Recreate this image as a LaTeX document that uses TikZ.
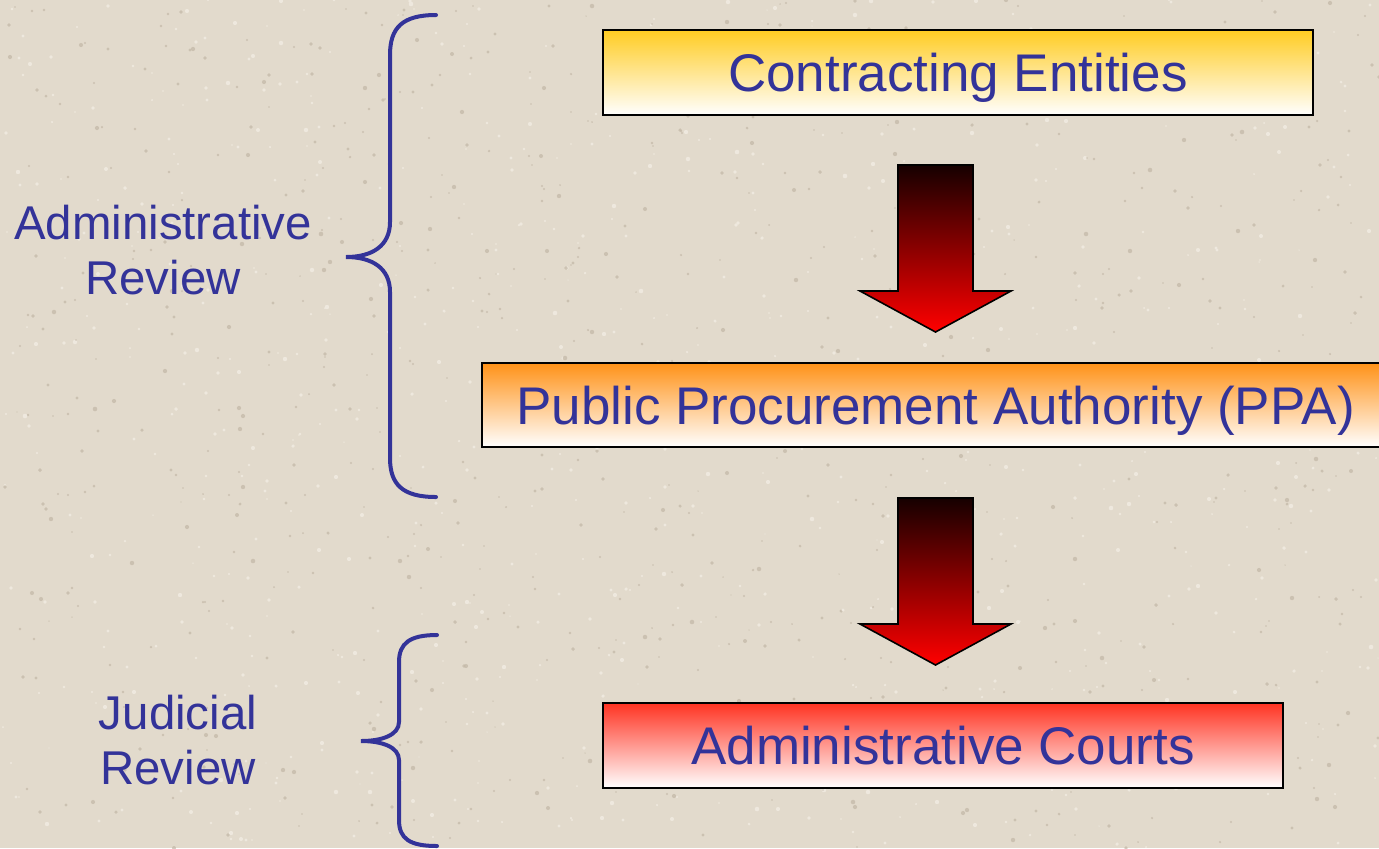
\documentclass[tikz,border=0pt]{standalone}
\usepackage{fontspec}
\setmainfont{Liberation Sans}
\usetikzlibrary{calc}

\definecolor{paper}{HTML}{E2DACC}
\definecolor{speckdark}{HTML}{C4B9A8}
\definecolor{specklight}{HTML}{F0EAE0}
\definecolor{ink}{HTML}{333399}
\definecolor{goldtop}{HTML}{FFCC22}
\definecolor{orangetop}{HTML}{FF9218}
\definecolor{redtop}{HTML}{FF3322}
\definecolor{arrowtop}{HTML}{160000}
\definecolor{arrowmid}{HTML}{A00000}
\definecolor{arrowbot}{HTML}{FF0000}

\tikzset{
  boxtext/.style={text=ink, inner sep=0pt, text height=19pt, text depth=0pt,
    font=\fontsize{26.5pt}{32pt}\selectfont},
  stagebox/.style={boxtext, draw=black, line width=1pt, rectangle, bottom color=white,
    minimum height=42.5pt},
  sidelabel/.style={align=center, text=ink, inner sep=0pt,
    font=\fontsize{23.7pt}{27.5pt}\selectfont},
  brace/.style={draw=ink, line width=2pt, line cap=round},
  blockarrow/.style={draw=black, line width=0.8pt, line join=miter,
    top color=arrowtop, middle color=arrowmid, bottom color=arrowbot},
}

% block arrow hanging from its top-centre point #1
\newcommand{\downblock}[1]{%
  \path[blockarrow] ($(#1)+(-37.5,0)$) -- ($(#1)+(37.5,0)$) -- ($(#1)+(37.5,126)$)
    -- ($(#1)+(75.5,126)$) -- ($(#1)+(0,167)$) -- ($(#1)+(-75.5,126)$)
    -- ($(#1)+(-37.5,126)$) -- cycle;}

\begin{document}
\begin{tikzpicture}[x=0.5pt, y=-0.5pt]
  \useasboundingbox (0,0) rectangle (1379,848);
  \clip (0,0) rectangle (1379,848);

  % textured paper
  \fill[paper] (0,0) rectangle (1379,848);
  \pgfmathsetseed{7}
  \foreach \i in {1,...,1600} {
    \pgfmathsetmacro{\px}{random(0,1379)}
    \pgfmathsetmacro{\py}{random(0,848)}
    \pgfmathsetmacro{\pr}{0.7+rnd*1.6}
    \pgfmathparse{rnd<0.5 ? 1 : 0}
    \ifnum\pgfmathresult=1
      \fill[speckdark, opacity=0.75] (\px,\py) circle[radius=\pr];
    \else
      \fill[specklight, opacity=0.9] (\px,\py) circle[radius=\pr];
    \fi
  }

  % review stages
  \node[stagebox, top color=goldtop, minimum width=355pt] (ce) at (958,72.5) {Contracting Entities};
  \node[stagebox, top color=orangetop, minimum width=451.5pt, minimum height=42pt] (ppa) at (933.5,405) {};
  \node[boxtext] (ppatext) at (935.5,405.5) {Public Procurement Authority (PPA)};
  \node[stagebox, top color=redtop, minimum width=340pt] (ac) at (943,745.5) {Administrative Courts};

  % flow between stages
  \coordinate (a1) at (935.5,165);
  \coordinate (a2) at (935.5,498);
  \downblock{a1}
  \downblock{a2}

  % review braces
  \draw[brace] (436,15) .. controls (402,15) and (390,28) .. (390,55)
    -- (390,222) .. controls (390,246) and (372,257) .. (346,257)
    .. controls (372,257) and (390,268) .. (390,292)
    -- (390,458) .. controls (390,484) and (402,497) .. (436,497);
  \draw[brace] (437,635) .. controls (410,635) and (399,643) .. (399,662)
    -- (399,722) .. controls (399,735) and (382,741) .. (361,741)
    .. controls (382,741) and (399,747) .. (399,760)
    -- (399,820) .. controls (399,839) and (410,846) .. (437,846);

  \node[sidelabel] (adm) at (163,250) {Administrative\\Review};
  \node[sidelabel] (jud) at (178,740) {Judicial\\Review};
\end{tikzpicture}
\end{document}
